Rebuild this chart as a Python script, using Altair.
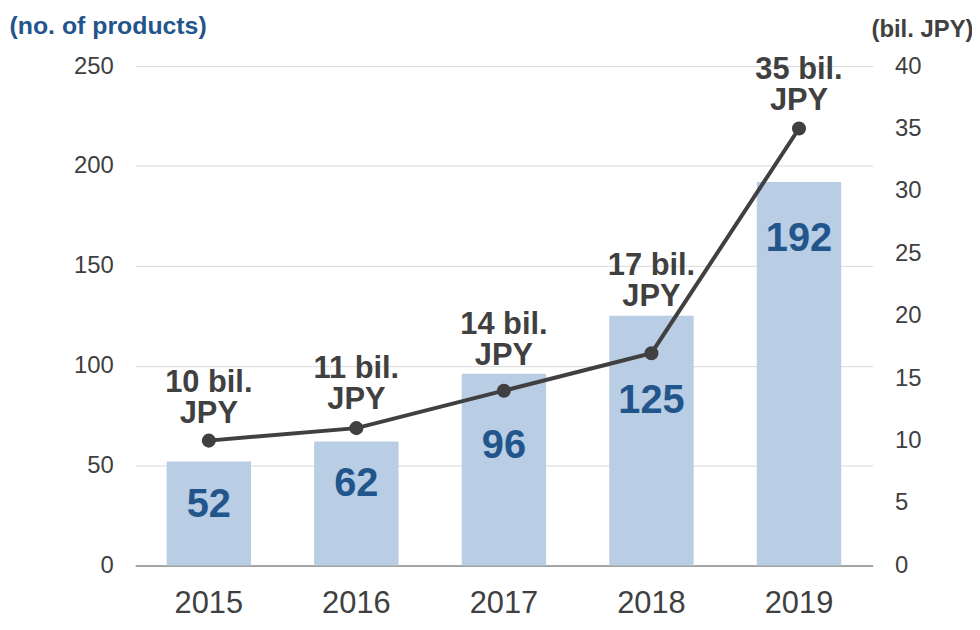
import altair as alt
import pandas as pd

years = ["2015", "2016", "2017", "2018", "2019"]
products = [52, 62, 96, 125, 192]
sales_bil_jpy = [10, 11, 14, 17, 35]
sales_labels = ["10 bil.\nJPY", "11 bil.\nJPY", "14 bil.\nJPY", "17 bil.\nJPY", "35 bil.\nJPY"]
# vertical anchor of the labels (in axis units)
product_label_at = [30.4, 40.8, 59.7, 82.2, 163.3]
sales_label_at = [14.6, 15.75, 19.25, 23.95, 39.7]

df = pd.DataFrame({
    "year": years,
    "products": products,
    "sales": sales_bil_jpy,
    "sales_label": sales_labels,
    "plab": product_label_at,
    "slab": sales_label_at,
})

FONT = "Liberation Sans"
BLUE = "#22558b"
DARK = "#404040"

x_enc = alt.X("year:N", sort=years, title=None,
              scale=alt.Scale(paddingInner=0.428, paddingOuter=0.213),
              axis=alt.Axis(labelFontSize=31, labelColor=DARK, labelFont=FONT,
                            labelAngle=0, ticks=False, domainColor="#8c8c8c",
                            domainWidth=1.5, labelPadding=23, grid=False))

left_axis = alt.Axis(values=[0, 50, 100, 150, 200, 250], labelFontSize=24,
                     labelColor=DARK, labelFont=FONT, ticks=False, domain=False,
                     labelPadding=22, grid=True, gridColor="#d9d9d9",
                     title="(no. of products)", titleAngle=0, titleX=-127,
                     titleY=-41, titleAlign="left", titleBaseline="middle",
                     titleFontSize=25, titleFont=FONT, titleFontWeight="bold",
                     titleColor=BLUE)
left_scale = alt.Scale(domain=[0, 250], nice=False)

right_axis = alt.Axis(values=[0, 5, 10, 15, 20, 25, 30, 35, 40], orient="right",
                      labelFontSize=24, labelColor=DARK, labelFont=FONT,
                      ticks=False, domain=False, labelPadding=22, grid=False,
                      title="(bil. JPY)", titleAngle=0, titleX=101, titleY=-37,
                      titleAlign="right", titleBaseline="middle",
                      titleFontSize=24, titleFont=FONT, titleFontWeight="bold",
                      titleColor=DARK)
right_scale = alt.Scale(domain=[0, 40], nice=False)

base = alt.Chart(df)

bars = base.mark_bar(color="#b9cde5").encode(
    x=x_enc,
    y=alt.Y("products:Q", scale=left_scale, axis=left_axis),
)
bar_text = base.mark_text(font=FONT, fontSize=40, fontWeight="bold",
                          color=BLUE, baseline="middle").encode(
    x=x_enc,
    y=alt.Y("plab:Q", scale=left_scale, axis=left_axis),
    text="products:Q",
)

line = base.mark_line(color=DARK, strokeWidth=4).encode(
    x=x_enc,
    y=alt.Y("sales:Q", scale=right_scale, axis=right_axis),
)
points = base.mark_point(filled=True, color=DARK, size=200, opacity=1).encode(
    x=x_enc,
    y=alt.Y("sales:Q", scale=right_scale, axis=right_axis),
)
line_text = base.mark_text(font=FONT, fontSize=31, fontWeight="bold",
                           color=DARK, baseline="middle", lineBreak="\n",
                           lineHeight=31).encode(
    x=x_enc,
    y=alt.Y("slab:Q", scale=right_scale, axis=right_axis),
    text="sales_label:N",
)

left = alt.layer(bars, bar_text)
right = alt.layer(line, points, line_text)

chart = alt.layer(left, right).resolve_scale(y="independent").properties(
    width=742, height=502.5,
    padding={"left": 128, "top": 56.5, "right": 100, "bottom": 60},
    autosize="none",
).configure_view(stroke=None)

chart.save("out.html", embed_options={"renderer": "svg", "actions": False})
